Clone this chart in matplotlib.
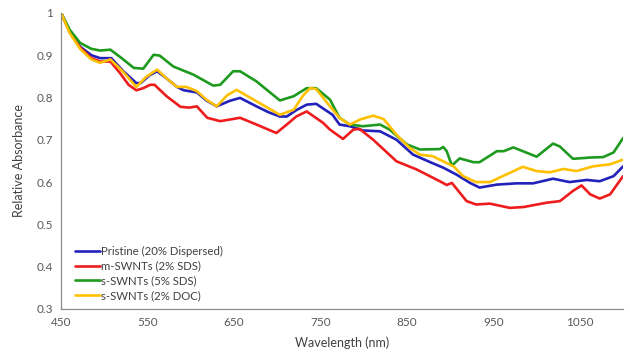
import matplotlib
matplotlib.use("Agg")
import matplotlib.pyplot as plt
from matplotlib.ticker import FuncFormatter

# Data (wavelength in nm, relative absorbance)
pristine_wl = [450, 460, 472, 485, 495, 508, 522, 537, 542, 552, 561, 572, 584, 592, 607, 618,
               630, 645, 657, 676, 690, 703, 711, 722, 734, 745, 764, 772, 784, 799, 819, 838,
               857, 877, 892, 907, 923, 934, 954, 977, 996, 1019, 1038, 1058, 1073, 1089, 1100]
pristine = [1.0, 0.955, 0.920, 0.900, 0.893, 0.893, 0.862, 0.834, 0.834, 0.852, 0.862, 0.845,
            0.825, 0.817, 0.812, 0.793, 0.779, 0.792, 0.799, 0.779, 0.765, 0.755, 0.755, 0.770,
            0.783, 0.785, 0.759, 0.736, 0.732, 0.722, 0.720, 0.700, 0.665, 0.647, 0.634, 0.618,
            0.598, 0.587, 0.594, 0.597, 0.597, 0.608, 0.600, 0.605, 0.602, 0.614, 0.637]

m_wl = [450, 460, 472, 485, 495, 507, 518, 528, 537, 545, 553, 558, 572, 588, 598, 607, 619,
        634, 657, 676, 699, 711, 722, 734, 753, 761, 776, 788, 795, 811, 838, 861, 888, 896,
        902, 919, 930, 946, 969, 985, 1011, 1027, 1042, 1052, 1062, 1073, 1085, 1100]
m_swnt = [1.0, 0.955, 0.918, 0.893, 0.885, 0.885, 0.858, 0.830, 0.817, 0.822, 0.830, 0.830,
          0.803, 0.778, 0.776, 0.779, 0.752, 0.744, 0.752, 0.736, 0.716, 0.736, 0.755, 0.767,
          0.740, 0.724, 0.702, 0.724, 0.726, 0.700, 0.649, 0.630, 0.602, 0.593, 0.598, 0.555,
          0.547, 0.549, 0.539, 0.541, 0.551, 0.555, 0.579, 0.592, 0.571, 0.561, 0.571, 0.614]

s_sds_wl = [450, 460, 472, 485, 495, 507, 520, 534, 545, 557, 564, 580, 603, 626, 634, 649,
            657, 676, 703, 719, 734, 745, 761, 772, 784, 799, 819, 830, 850, 865, 888, 892,
            896, 902, 911, 927, 934, 954, 962, 973, 1000, 1019, 1027, 1042, 1062, 1077, 1089,
            1100]
s_sds = [1.0, 0.960, 0.929, 0.915, 0.911, 0.913, 0.893, 0.870, 0.868, 0.901, 0.899, 0.873,
         0.854, 0.828, 0.830, 0.862, 0.862, 0.838, 0.793, 0.803, 0.822, 0.822, 0.795, 0.752,
         0.736, 0.732, 0.736, 0.724, 0.689, 0.677, 0.678, 0.683, 0.673, 0.639, 0.656, 0.647,
         0.647, 0.673, 0.673, 0.682, 0.660, 0.691, 0.684, 0.655, 0.658, 0.659, 0.670, 0.704]

s_doc_wl = [450, 460, 472, 485, 495, 507, 522, 537, 548, 561, 572, 584, 595, 607, 618, 630,
            642, 653, 676, 703, 719, 730, 738, 745, 761, 772, 784, 796, 811, 823, 838, 853,
            865, 880, 896, 904, 915, 930, 946, 965, 984, 1000, 1015, 1031, 1046, 1065, 1085,
            1100]
s_doc = [1.0, 0.952, 0.915, 0.890, 0.882, 0.890, 0.860, 0.825, 0.848, 0.866, 0.845, 0.825,
         0.825, 0.815, 0.795, 0.779, 0.805, 0.818, 0.791, 0.759, 0.771, 0.805, 0.822, 0.820,
         0.779, 0.752, 0.736, 0.748, 0.757, 0.749, 0.712, 0.681, 0.665, 0.661, 0.645, 0.637,
         0.614, 0.600, 0.600, 0.618, 0.636, 0.626, 0.623, 0.631, 0.626, 0.637, 0.642, 0.653]

labels = ["Pristine (20% Dispersed)", "m-SWNTs (2% SDS)", "s-SWNTs (5% SDS)", "s-SWNTs (2% DOC)"]
colors = ["#2222bb", "#ee1c1c", "#1e9a1e", "#ffc000"]
x_ticks = [450, 550, 650, 750, 850, 950, 1050]
y_ticks = [0.3, 0.4, 0.5, 0.6, 0.7, 0.8, 0.9, 1.0]

plt.rcParams['font.family'] = ['Lato', 'DejaVu Sans']

fig = plt.figure(figsize=(6.3, 3.58), dpi=100)
ax = fig.add_axes([0.097, 0.137, 0.892, 0.827])

series = [(pristine_wl, pristine), (m_wl, m_swnt), (s_sds_wl, s_sds), (s_doc_wl, s_doc)]
for (wl, val), lab, col in zip(series, labels, colors):
    ax.plot(wl, val, color=col, linewidth=1.9, label=lab,
            solid_joinstyle='round', solid_capstyle='round')

ax.set_xlim(450, 1100)
ax.set_ylim(0.3, 1.0)
ax.set_xticks(x_ticks)
ax.set_yticks(y_ticks)
ax.yaxis.set_major_formatter(FuncFormatter(lambda v, p: "1" if abs(v - 1) < 1e-9 else f"{v:.1f}"))
ax.tick_params(length=0, labelsize=8.5, colors="#595959", pad=6)

for s in ["top", "right"]:
    ax.spines[s].set_visible(False)
for s in ["left", "bottom"]:
    ax.spines[s].set_color("#8c8c8c")
    ax.spines[s].set_linewidth(0.9)

ax.set_xlabel("Wavelength (nm)", fontsize=9, color="#404040", labelpad=6)
ax.set_ylabel("Relative Absorbance", fontsize=9, color="#404040", labelpad=8)

leg = ax.legend(loc="lower left", frameon=False, fontsize=8.2, handlelength=2.2,
                handletextpad=0.1, labelspacing=0.32, borderaxespad=0.3,
                bbox_to_anchor=(0.01, 0.0))
for t in leg.get_texts():
    t.set_color("#404040")

fig.savefig("out.png", dpi=100)
